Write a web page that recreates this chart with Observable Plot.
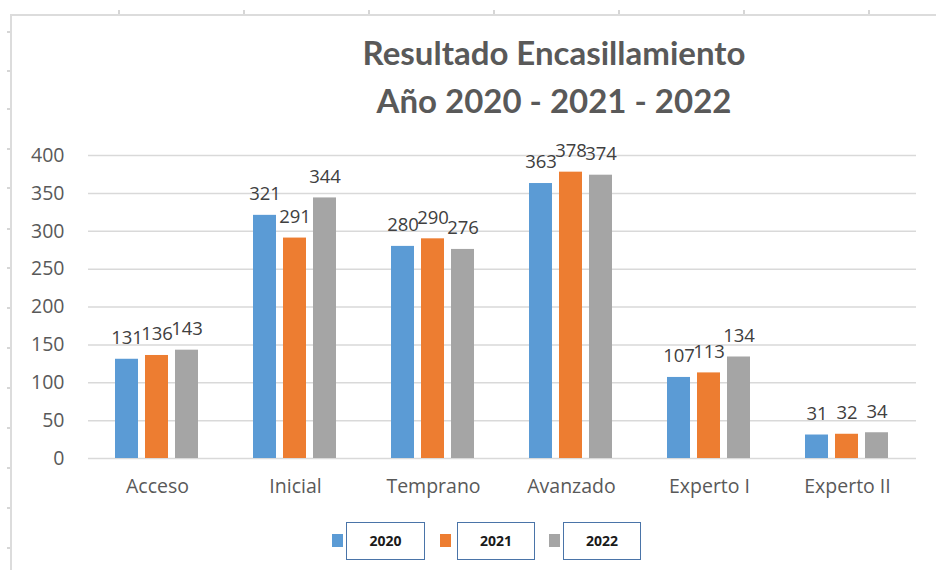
<!DOCTYPE html>
<html>
<head>
<meta charset="utf-8">
<script src="https://cdn.jsdelivr.net/npm/d3@7"></script>
<script src="https://cdn.jsdelivr.net/npm/@observablehq/plot@0.6"></script>
<style>
  html, body { margin: 0; padding: 0; background: #fff; }
  #wrap { position: relative; width: 936px; height: 570px; overflow: hidden; background: #fff; font-family: "Open Sans", sans-serif; }
  #sheetTop { position: absolute; left: 10px; top: 14px; width: 926px; height: 0; border-top: 2px solid #dcdcdc; }
  #sheetLeft { position: absolute; left: 10px; top: 14px; width: 0; height: 556px; border-left: 2px solid #dcdcdc; }
  .tickT { position: absolute; top: 10px; width: 2px; height: 4px; background: #d6d6d6; }
  .tickL { position: absolute; left: 7px; width: 3px; height: 2px; background: #d6d6d6; }
  #title { position: absolute; left: 304px; width: 500px; top: 28px; text-align: center; font-family: Lato, sans-serif; font-weight: bold; font-size: 33px; line-height: 48px; color: #595959; }
  #chart { position: absolute; left: 0; top: 130px; }
  .sw { position: absolute; top: 534px; width: 11px; height: 13px; }
  .box { position: absolute; top: 522px; height: 38px; border: 1.5px solid #4A74A8; box-sizing: border-box; text-align: center; font-weight: bold; font-size: 14px; line-height: 35px; color: #1a1a1a; font-family: "Open Sans", sans-serif; }
</style>
</head>
<body>
<div id="wrap">
  <div id="sheetTop"></div>
  <div id="sheetLeft"></div>
  <div id="title">Resultado Encasillamiento<br>Año 2020 - 2021 - 2022</div>
  <div id="chart"></div>
</div>
<script>
const categories = ["Acceso", "Inicial", "Temprano", "Avanzado", "Experto I", "Experto II"];
const years = ["2020", "2021", "2022"];
const v2020 = [131, 321, 280, 363, 107, 31];
const v2021 = [136, 291, 290, 378, 113, 32];
const v2022 = [143, 344, 276, 374, 134, 34];
const yTicks = [0, 50, 100, 150, 200, 250, 300, 350, 400];
const colors = ["#5B9BD5", "#ED7D31", "#A5A5A5"];

const series = [v2020, v2021, v2022];
const data = categories.flatMap((c, i) => years.map((y, j) => ({category: c, year: y, value: series[j][i]})));

const chart = Plot.plot({
  width: 936,
  height: 375,
  marginLeft: 85,
  marginRight: 18,
  marginTop: 25,
  marginBottom: 47,
  style: {fontFamily: "Open Sans, sans-serif", fontSize: "19.5px", color: "#595959", background: "transparent"},
  facet: {data, x: "category"},
  fx: {domain: categories, paddingInner: 0, paddingOuter: 0, axis: "bottom", label: null, tickSize: 0, tickPadding: 21},
  x: {domain: years, paddingInner: 0.226, paddingOuter: 0.85, axis: null},
  y: {domain: [0, 400], ticks: yTicks, tickSize: 0, tickPadding: 24, label: null},
  color: {domain: years, range: colors},
  marks: [
    Plot.ruleY(yTicks, {stroke: "#d9d9d9", strokeWidth: 1.5}),
    Plot.barY(data, {x: "year", y: "value", fill: "year"}),
    Plot.text(data, {x: "year", y: "value", text: d => String(d.value), dy: -21, fill: "#404040", fontSize: 18.5})
  ]
});
document.getElementById("chart").appendChild(chart);

const wrap = document.getElementById("wrap");
[118, 243, 368, 493, 618, 743, 868].forEach(x => {
  const t = document.createElement("div"); t.className = "tickT"; t.style.left = x + "px"; wrap.appendChild(t);
});
[31, 70, 108, 148, 187, 228, 267, 307, 347, 387, 427, 467, 507, 547].forEach(y => {
  const t = document.createElement("div"); t.className = "tickL"; t.style.top = y + "px"; wrap.appendChild(t);
});
const legendPos = [{sw: 332, bx: 346, bw: 79}, {sw: 440, bx: 457, bw: 78}, {sw: 549, bx: 563, bw: 78}];
years.forEach((y, i) => {
  const s = document.createElement("div"); s.className = "sw"; s.style.left = legendPos[i].sw + "px"; s.style.background = colors[i]; wrap.appendChild(s);
  const b = document.createElement("div"); b.className = "box"; b.style.left = legendPos[i].bx + "px"; b.style.width = legendPos[i].bw + "px"; b.textContent = y; wrap.appendChild(b);
});
</script>
</body>
</html>
